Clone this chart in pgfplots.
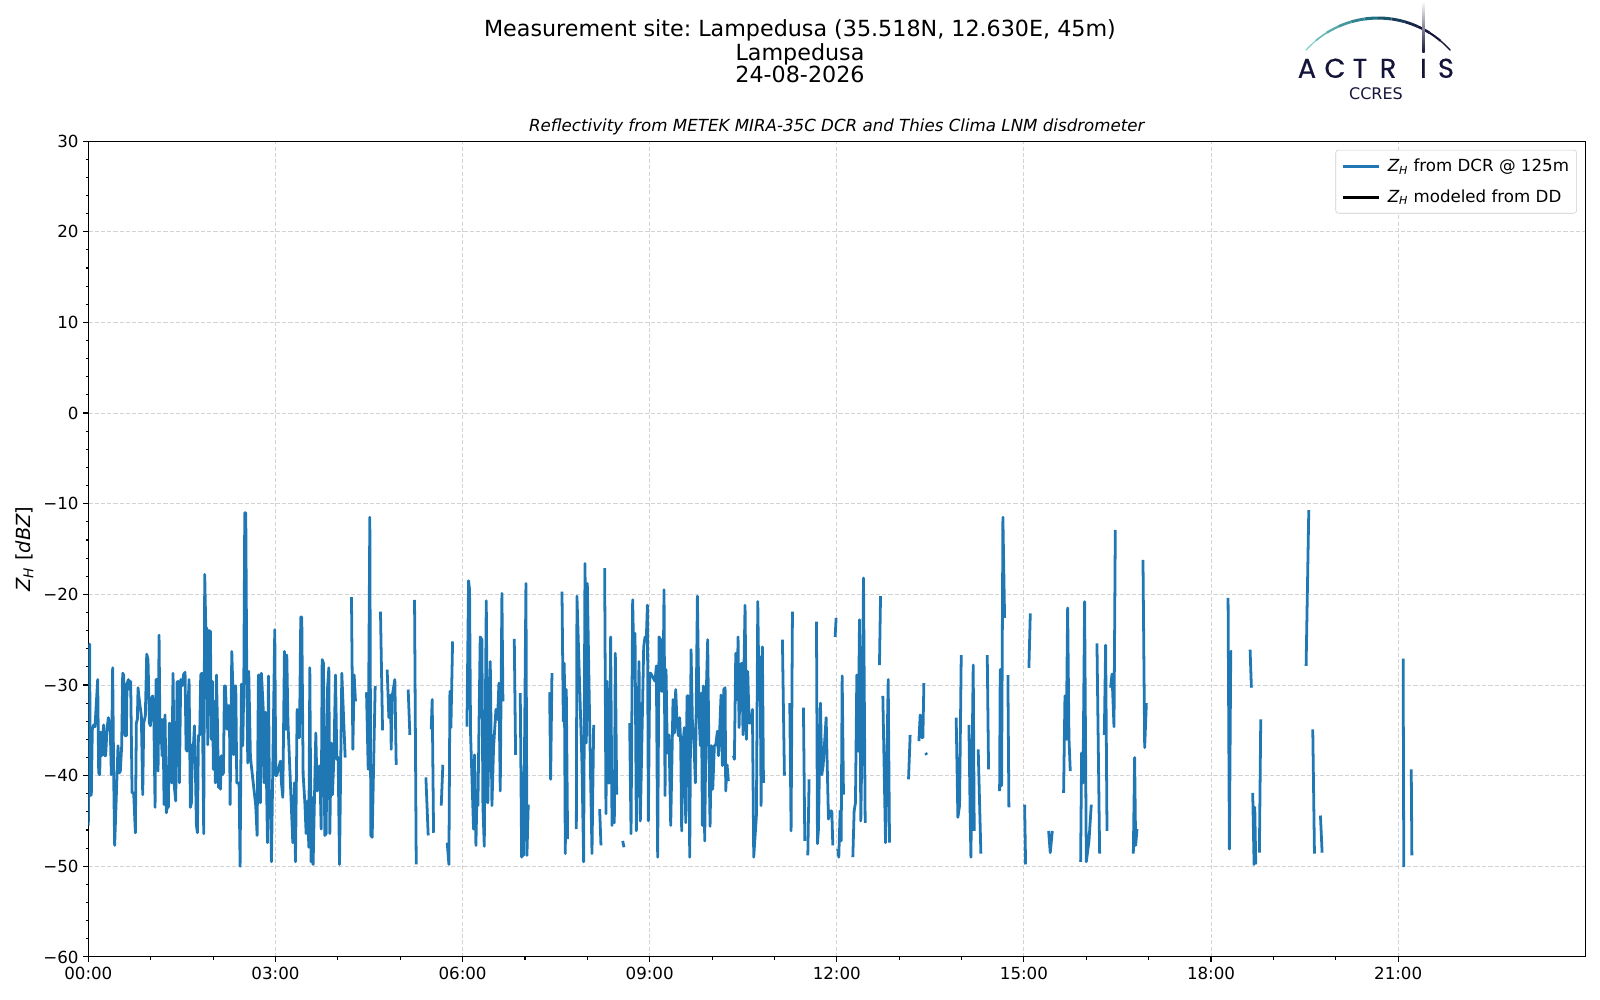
\documentclass[border=0pt]{standalone}
\usepackage{pgfplots}
\pgfplotsset{compat=1.18}
\usepackage{fontspec}
\setmainfont{DejaVu Sans}
\newfontfamily\logofont{Poppins}[FakeBold=0.5]
\definecolor{mplblue}{HTML}{1F77B4}
\definecolor{logonavy}{HTML}{14143A}
\definecolor{logoteal}{HTML}{7CCFC6}
\definecolor{logomid}{HTML}{1F7282}
\definecolor{gridgray}{HTML}{D3D3D3}
\frenchspacing
\begin{document}
\begin{tikzpicture}
\useasboundingbox (0,0) rectangle (1152pt,720pt);
% super title
\node[font=\fontsize{16}{19.2}\selectfont, anchor=base] at (576pt,693.6pt) {Measurement site: Lampedusa (35.518N, 12.630E, 45m)};
\node[font=\fontsize{16}{19.2}\selectfont, anchor=base] at (576pt,676.6pt) {Lampedusa};
\node[font=\fontsize{16}{19.2}\selectfont, anchor=base] at (576pt,660.6pt) {24-08-2026};
% logo
\coordinate (LC) at (992.2pt,637.2pt);
\draw[logoteal, line width=0.8pt, line cap=round] ([shift={(138:69.8pt)}]LC) arc (138:130:69.8pt);
\draw[logomid!20!logoteal, line width=1.2pt] ([shift={(130:69.8pt)}]LC) arc (130:122:69.8pt);
\draw[logomid!40!logoteal, line width=1.6pt] ([shift={(122:69.8pt)}]LC) arc (122:114:69.8pt);
\draw[logomid!60!logoteal, line width=1.9pt] ([shift={(114:69.8pt)}]LC) arc (114:106:69.8pt);
\draw[logomid!80!logoteal, line width=2.1pt] ([shift={(106:69.8pt)}]LC) arc (106:98:69.8pt);
\draw[logomid, line width=2.2pt] ([shift={(98:69.8pt)}]LC) arc (98:90:69.8pt);
\draw[logonavy!30!logomid, line width=2.2pt] ([shift={(90:69.8pt)}]LC) arc (90:82:69.8pt);
\draw[logonavy!55!logomid, line width=2.1pt] ([shift={(82:69.8pt)}]LC) arc (82:74:69.8pt);
\draw[logonavy!80!logomid, line width=2.0pt] ([shift={(74:69.8pt)}]LC) arc (74:66:69.8pt);
\draw[logonavy, line width=1.8pt] ([shift={(66:69.8pt)}]LC) arc (66:58:69.8pt);
\draw[logonavy, line width=1.5pt] ([shift={(58:69.8pt)}]LC) arc (58:50:69.8pt);
\draw[logonavy, line width=1.0pt, line cap=round] ([shift={(50:69.8pt)}]LC) arc (50:42:69.8pt);
\shade[top color=white, bottom color=logonavy] (1024.1pt,682pt) rectangle (1025.7pt,719pt);
\begin{scope}[logonavy]
\node[font=\logofont\fontsize{19.5}{20}\selectfont, anchor=base] at (941.0pt,664.0pt) {A};
\node[font=\logofont\fontsize{19.5}{20}\selectfont, anchor=base] at (961.2pt,664.0pt) {C};
\node[font=\logofont\fontsize{19.5}{20}\selectfont, anchor=base] at (979.2pt,664.0pt) {T};
\node[font=\logofont\fontsize{19.5}{20}\selectfont, anchor=base] at (999.4pt,664.0pt) {R};
\node[font=\logofont\fontsize{19.5}{20}\selectfont, anchor=base] at (1024.9pt,664.0pt) {I};
\node[font=\logofont\fontsize{19.5}{20}\selectfont, anchor=base] at (1041.1pt,664.0pt) {S};
\node[font=\fontsize{11.5}{13}\selectfont, anchor=base] at (990.7pt,648.4pt) {CCRES};
\end{scope}
\begin{axis}[
  at={(63.6pt,31pt)}, anchor=south west,
  scale only axis, width=1077.8pt, height=587.4pt,
  xmin=0, xmax=24, ymin=-60, ymax=30,
  xtick={0,3,6,9,12,15,18,21},
  xticklabels={00:00,03:00,06:00,09:00,12:00,15:00,18:00,21:00},
  minor x tick num=2,
  ytick={-60,-50,-40,-30,-20,-10,0,10,20,30},
  yticklabels={−60,−50,−40,−30,−20,−10,0,10,20,30},
  minor y tick num=4,
  /pgf/number format/assume math mode=true,
  tick label style={font=\fontsize{12}{14}\selectfont},
  tick align=outside, xtick pos=bottom, ytick pos=left,
  major tick length=3.5pt, minor tick length=2pt,
  every tick/.style={black, line width=0.8pt},
  axis line style={line width=0.8pt},
  grid=major,
  major grid style={gridgray, line width=0.7pt, dash pattern=on 3pt off 1.5pt},
  title={\itshape Reflectivity from METEK MIRA-35C DCR and Thies Clima LNM disdrometer},
  title style={font=\fontsize{12}{14}\selectfont, at={(0.5,1)}, anchor=base, yshift=1.2pt},
  ylabel={{\itshape Z}\textsubscript{\itshape H} [{\itshape dBZ}]},
  ylabel style={font=\fontsize{14}{16}\selectfont, at={(axis description cs:-0.0427,0.5)}, anchor=center},
  unbounded coords=jump,
  legend cell align=left,
  legend image code/.code={\draw[#1] (0pt,0pt) -- (26.4pt,0pt); \path (30pt,0pt);},
  legend style={at={(1,1)}, xshift=-6pt, yshift=-6.3pt, anchor=north east,
    draw=black!20, rounded corners=2pt, fill=white,
    font=\fontsize{12}{14}\selectfont, inner xsep=4pt, inner ysep=4.8pt,
    row sep=8.6pt, nodes={inner sep=1.5pt}},
]
\addplot[mplblue, line width=2pt, line join=round] table {
h v
0.000 -45.5
0.021 -25.5
0.032 -42.2
0.048 -42.1
0.064 -34.9
0.086 -34.4
0.107 -34.6
0.128 -32.0
0.150 -29.4
0.166 -39.7
0.182 -39.9
0.198 -35.2
0.214 -37.8
0.230 -35.6
0.246 -34.4
0.262 -37.8
0.278 -37.8
0.299 -34.9
0.321 -33.6
0.337 -34.2
0.353 -35.3
0.369 -39.9
0.390 -28.1
0.406 -39.9
0.422 -47.7
0.476 -36.7
0.497 -39.7
0.513 -39.5
0.535 -36.7
0.551 -28.7
0.567 -28.9
0.588 -35.6
0.610 -35.6
0.620 -29.9
0.642 -29.4
0.663 -30.5
0.679 -29.6
0.701 -41.9
0.727 -41.9
0.754 -46.3
0.770 -34.2
0.786 -33.8
0.797 -30.3
0.813 -31.4
0.829 -32.3
0.850 -33.4
0.872 -42.1
0.888 -34.2
0.914 -33.4
0.936 -26.6
0.957 -27.2
0.979 -34.2
0.995 -34.5
1.016 -31.4
1.032 -31.2
1.048 -32.7
1.070 -43.5
1.086 -29.4
1.102 -29.4
1.118 -39.5
1.134 -24.5
1.150 -36.4
1.166 -33.8
1.182 -37.8
1.198 -33.8
1.214 -43.2
1.230 -33.3
1.251 -44.1
1.267 -43.3
1.283 -43.5
1.300 -34.2
1.316 -34.5
1.337 -40.8
1.358 -28.7
1.380 -41.3
1.401 -42.8
1.423 -29.7
1.439 -29.6
1.460 -40.8
1.481 -29.4
1.503 -30.1
1.529 -28.8
1.551 -28.6
1.567 -37.1
1.583 -37.3
1.599 -32.3
1.615 -29.4
1.636 -43.5
1.653 -43.0
1.669 -36.6
1.685 -36.7
1.701 -34.5
1.717 -39.5
1.733 -45.5
1.749 -46.3
1.765 -35.6
1.786 -35.5
1.802 -28.9
1.818 -28.7
1.834 -35.8
1.850 -46.4
1.866 -17.8
1.883 -23.7
1.899 -23.7
1.915 -36.6
1.936 -24.0
1.957 -24.1
1.973 -36.0
1.989 -29.6
2.005 -39.3
2.021 -31.8
2.037 -40.8
2.054 -28.9
2.070 -34.2
2.086 -41.3
2.102 -38.0
2.118 -41.5
2.134 -37.8
2.150 -39.9
2.166 -39.7
2.182 -30.1
2.198 -30.1
2.225 -34.9
2.241 -32.3
2.262 -32.3
2.273 -43.2
2.300 -26.3
2.316 -30.1
2.332 -37.7
2.348 -30.1
2.364 -30.1
2.380 -40.8
2.396 -40.8
2.417 -40.8
2.433 -50.0
2.455 -29.9
2.476 -36.7
2.492 -30.5
2.508 -11.0
2.524 -11.0
2.540 -28.7
2.556 -38.6
2.572 -28.5
2.599 -38.0
2.684 -43.3
2.706 -46.6
2.727 -28.9
2.743 -28.9
2.759 -43.0
2.775 -28.7
2.802 -32.3
2.818 -40.8
2.840 -33.0
2.872 -47.4
2.888 -29.0
2.904 -43.0
2.920 -43.3
2.936 -49.5
2.989 -23.9
3.005 -40.0
3.020 -40.0
3.080 -38.4
3.096 -40.8
3.118 -42.4
3.144 -26.3
3.166 -34.9
3.182 -26.7
3.200 -34.0
3.278 -47.4
3.305 -40.8
3.321 -49.5
3.348 -32.7
3.364 -35.8
3.385 -35.8
3.406 -22.5
3.422 -22.5
3.444 -39.9
3.471 -42.9
3.492 -46.4
3.513 -42.8
3.535 -47.9
3.551 -28.1
3.572 -49.5
3.588 -42.4
3.604 -49.8
3.647 -35.3
3.668 -41.7
3.690 -39.3
3.711 -38.9
3.733 -45.9
3.749 -27.2
3.770 -27.6
3.791 -46.6
3.813 -46.4
3.834 -30.5
3.856 -28.1
3.872 -46.4
3.893 -36.4
3.914 -42.1
3.936 -38.2
3.963 -28.9
3.984 -38.2
4.005 -38.0
4.027 -49.8
4.064 -28.7
4.118 -38.0
4.130 nan
4.219 -20.3
4.241 -37.1
4.262 -28.9
4.283 -31.8
4.300 nan
4.460 -30.8
4.487 -39.3
4.513 -11.5
4.529 -46.6
4.551 -46.8
4.599 -30.1
4.620 nan
4.684 -21.9
4.717 -35.0
4.750 nan
4.791 -28.3
4.818 -33.6
4.845 -31.1
4.856 -37.1
4.872 -31.2
4.914 -29.4
4.936 -38.8
4.950 nan
5.128 -30.5
5.155 -35.5
5.190 nan
5.230 -20.6
5.257 -49.8
5.300 nan
5.412 -40.2
5.449 -46.6
5.470 nan
5.497 -34.9
5.513 -31.6
5.535 -46.3
5.600 nan
5.658 -43.3
5.684 -38.8
5.700 nan
5.754 -47.4
5.781 -49.8
5.797 -30.7
5.813 -34.7
5.840 -25.2
5.900 nan
6.070 -34.6
6.096 -18.5
6.112 -19.5
6.128 -35.3
6.176 -45.9
6.193 -37.7
6.214 -47.7
6.230 -42.4
6.246 -43.3
6.283 -24.7
6.310 -25.0
6.326 -43.3
6.348 -47.8
6.380 -20.7
6.405 -43.0
6.444 -27.4
6.471 -43.3
6.497 -36.9
6.535 -32.7
6.561 -33.8
6.583 -29.8
6.604 -41.7
6.631 -19.9
6.647 -31.8
6.700 nan
6.829 -24.9
6.850 -37.7
6.880 nan
6.925 -30.9
6.947 -49.0
6.963 -39.7
6.979 -48.8
7.016 -18.8
7.032 -48.8
7.053 -43.2
7.100 nan
7.396 -30.8
7.412 -40.4
7.433 -28.7
7.500 nan
7.594 -19.7
7.615 -34.0
7.631 -27.6
7.647 -48.6
7.663 -30.5
7.684 -47.0
7.750 nan
7.824 -45.9
7.834 -20.2
7.914 -38.6
7.941 -49.5
7.963 -16.6
7.984 -36.4
8.000 -18.8
8.048 -38.4
8.075 -48.6
8.102 -34.4
8.150 nan
8.198 -43.7
8.219 -47.7
8.250 nan
8.278 -17.1
8.299 -44.2
8.316 -29.6
8.337 -40.8
8.358 -40.8
8.374 -24.7
8.396 -45.5
8.412 -40.0
8.433 -45.2
8.449 -26.5
8.471 -42.1
8.500 nan
8.567 -47.2
8.588 -47.9
8.620 nan
8.679 -34.2
8.701 -46.4
8.727 -20.6
8.749 -28.5
8.765 -24.3
8.786 -46.1
8.829 -27.4
8.850 -45.0
8.904 -25.8
8.925 -24.7
8.947 -24.7
8.963 -21.2
8.979 -45.0
9.000 -28.7
9.016 -28.7
9.086 -29.6
9.107 -27.9
9.128 -49.0
9.150 -24.7
9.176 -25.0
9.193 -30.7
9.214 -30.7
9.230 -19.5
9.246 -42.2
9.262 -28.3
9.283 -37.5
9.310 -35.5
9.337 -45.5
9.353 -39.7
9.374 -31.6
9.396 -35.3
9.417 -30.5
9.439 -34.2
9.460 -35.6
9.481 -33.6
9.497 -36.4
9.513 -46.1
9.535 -36.4
9.556 -34.7
9.578 -45.2
9.599 -31.2
9.620 -31.2
9.642 -49.0
9.663 -26.1
9.684 -33.8
9.711 -36.7
9.733 -40.8
9.765 -20.2
9.791 -33.4
9.813 -36.7
9.829 -30.9
9.845 -45.5
9.861 -30.1
9.882 -47.2
9.909 -30.5
9.930 -25.0
9.947 -35.8
9.968 -45.6
9.989 -36.7
10.011 -41.5
10.037 -36.7
10.059 -36.6
10.086 -35.1
10.102 -37.8
10.123 -34.9
10.144 -31.1
10.166 -38.9
10.187 -30.5
10.209 -30.3
10.219 -41.7
10.241 -38.8
10.262 -40.6
10.300 nan
10.342 -37.8
10.358 -38.2
10.380 -26.5
10.401 -31.6
10.417 -24.7
10.433 -34.7
10.455 -27.8
10.476 -27.6
10.497 -35.5
10.513 -27.6
10.529 -21.2
10.551 -36.0
10.572 -28.5
10.594 -34.2
10.620 -34.2
10.647 -32.7
10.668 -49.0
10.711 -44.4
10.733 -20.8
10.749 -29.2
10.770 -26.9
10.786 -43.3
10.807 -25.8
10.824 -40.8
10.900 nan
11.128 -25.0
11.160 -40.0
11.200 nan
11.246 -32.0
11.267 -46.1
11.289 -21.9
11.350 nan
11.465 -32.5
11.487 -47.2
11.510 nan
11.535 -48.8
11.556 -40.4
11.600 nan
11.674 -23.0
11.690 -47.5
11.706 -45.9
11.738 -32.0
11.759 -39.9
11.781 -38.9
11.829 -33.6
11.866 -44.8
11.893 -43.9
11.920 -43.9
11.936 -47.7
11.950 nan
11.973 -24.7
11.989 -22.6
12.000 nan
12.016 -48.1
12.032 -49.0
12.053 -43.9
12.070 -47.2
12.086 -29.0
12.107 -42.1
12.200 nan
12.257 -49.0
12.278 -43.9
12.299 -43.0
12.321 -28.9
12.342 -37.3
12.364 -22.8
12.385 -45.0
12.406 -34.9
12.428 -18.2
12.455 -45.2
12.500 nan
12.684 -27.8
12.701 -20.2
12.720 nan
12.738 -31.2
12.781 -47.4
12.824 -29.4
12.845 -47.4
12.900 nan
13.150 -40.4
13.176 -35.5
13.250 nan
13.316 -36.2
13.337 -33.3
13.358 -35.8
13.380 -35.8
13.396 -29.8
13.410 nan
13.422 -37.5
13.444 -37.7
13.500 nan
13.914 -33.6
13.941 -44.6
13.968 -43.3
13.995 -26.7
14.050 nan
14.118 -34.4
14.139 -44.8
14.150 -49.0
14.187 -27.8
14.203 -46.1
14.230 nan
14.267 -37.1
14.310 -48.6
14.350 nan
14.412 -26.7
14.433 -39.3
14.500 nan
14.610 -41.7
14.620 -28.3
14.642 -41.1
14.663 -11.5
14.690 -22.6
14.720 nan
14.743 -28.9
14.759 -43.5
14.900 nan
15.011 -43.2
15.027 -49.8
15.050 nan
15.080 -28.1
15.102 -22.1
15.200 nan
15.396 -46.1
15.422 -48.5
15.455 -46.1
15.550 nan
15.636 -41.9
15.658 -31.2
15.679 -36.0
15.701 -21.5
15.722 -35.8
15.743 -39.5
15.800 nan
15.909 -49.5
15.925 -37.5
15.947 -40.8
15.973 -20.8
16.000 -49.5
16.043 -47.2
16.080 -43.2
16.120 nan
16.171 -25.4
16.214 -48.6
16.250 nan
16.289 -35.5
16.310 -25.6
16.332 -46.1
16.360 nan
16.390 -30.3
16.412 -28.8
16.444 -34.6
16.465 -12.9
16.600 nan
16.754 -48.6
16.775 -38.0
16.791 -47.7
16.813 -45.9
16.850 nan
16.909 -16.2
16.936 -36.9
16.963 -32.0
17.200 nan
18.273 -20.4
18.294 -48.1
18.316 -26.3
18.337 -26.3
18.500 nan
18.626 -26.1
18.647 -30.3
18.655 nan
18.668 -41.9
18.690 -49.8
18.701 -43.5
18.717 -49.8
18.750 nan
18.775 -48.5
18.797 -33.8
19.000 nan
19.524 -27.9
19.567 -10.7
19.600 nan
19.631 -34.9
19.658 -48.6
19.700 nan
19.754 -44.4
19.781 -48.5
20.500 nan
21.080 -27.1
21.090 -50.1
21.150 nan
21.210 -39.3
21.220 -48.8
};
\addlegendentry{{\itshape Z}\textsubscript{\itshape H} from DCR @ 125m}
\addlegendimage{black, line width=2pt}
\addlegendentry{{\itshape Z}\textsubscript{\itshape H} modeled from DD}
\end{axis}
\end{tikzpicture}
\end{document}
